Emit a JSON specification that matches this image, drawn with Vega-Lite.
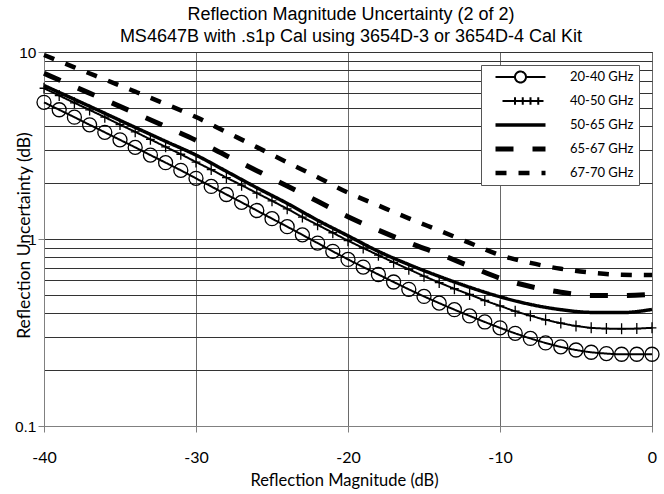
{
  "$schema": "https://vega.github.io/schema/vega-lite/v6.json",
  "autosize": {"type": "none"},
  "padding": {"left": 44, "top": 52, "right": 12, "bottom": 68},
  "width": 608,
  "height": 374,
  "background": "white",
  "title": {
    "text": ["Reflection Magnitude Uncertainty (2 of 2)", "MS4647B with .s1p Cal using 3654D-3 or 3654D-4 Cal Kit"],
    "font": "Liberation Sans",
    "fontSize": 18,
    "fontWeight": "normal",
    "color": "black",
    "anchor": "middle",
    "lineHeight": 22,
    "offset": -1,
    "dx": 3
  },
  "config": {
    "view": {"stroke": "black", "strokeWidth": 1},
    "axis": {"labelColor": "black", "titleColor": "black", "titleFontWeight": "normal"},
    "legend": {
      "orient": "none",
      "legendX": 437,
      "legendY": 13,
      "padding": 5,
      "symbolOffset": 7,
      "symbolSize": 2500,
      "clipHeight": 14,
      "rowPadding": 10,
      "labelOffset": 22,
      "labelFont": "Lato",
      "labelFontSize": 13,
      "labelColor": "black",
      "strokeColor": "#555555",
      "fillColor": "white",
      "symbolOpacity": 1,
      "symbolStrokeColor": "black",
      "symbolFillColor": "transparent"
    }
  },
  "data": {
    "values": [
      {"s": "20-40 GHz", "x": -40, "y": 5.38},
      {"s": "20-40 GHz", "x": -39, "y": 4.91},
      {"s": "20-40 GHz", "x": -38, "y": 4.48},
      {"s": "20-40 GHz", "x": -37, "y": 4.08},
      {"s": "20-40 GHz", "x": -36, "y": 3.72},
      {"s": "20-40 GHz", "x": -35, "y": 3.39},
      {"s": "20-40 GHz", "x": -34, "y": 3.09},
      {"s": "20-40 GHz", "x": -33, "y": 2.81},
      {"s": "20-40 GHz", "x": -32, "y": 2.56},
      {"s": "20-40 GHz", "x": -31, "y": 2.33},
      {"s": "20-40 GHz", "x": -30, "y": 2.11},
      {"s": "20-40 GHz", "x": -29, "y": 1.91},
      {"s": "20-40 GHz", "x": -28, "y": 1.73},
      {"s": "20-40 GHz", "x": -27, "y": 1.57},
      {"s": "20-40 GHz", "x": -26, "y": 1.42},
      {"s": "20-40 GHz", "x": -25, "y": 1.285},
      {"s": "20-40 GHz", "x": -24, "y": 1.164},
      {"s": "20-40 GHz", "x": -23, "y": 1.052},
      {"s": "20-40 GHz", "x": -22, "y": 0.951},
      {"s": "20-40 GHz", "x": -21, "y": 0.859},
      {"s": "20-40 GHz", "x": -20, "y": 0.778},
      {"s": "20-40 GHz", "x": -19, "y": 0.708},
      {"s": "20-40 GHz", "x": -18, "y": 0.646},
      {"s": "20-40 GHz", "x": -17, "y": 0.589},
      {"s": "20-40 GHz", "x": -16, "y": 0.538},
      {"s": "20-40 GHz", "x": -15, "y": 0.493},
      {"s": "20-40 GHz", "x": -14, "y": 0.454},
      {"s": "20-40 GHz", "x": -13, "y": 0.419},
      {"s": "20-40 GHz", "x": -12, "y": 0.388},
      {"s": "20-40 GHz", "x": -11, "y": 0.36},
      {"s": "20-40 GHz", "x": -10, "y": 0.335},
      {"s": "20-40 GHz", "x": -9, "y": 0.313},
      {"s": "20-40 GHz", "x": -8, "y": 0.294},
      {"s": "20-40 GHz", "x": -7, "y": 0.278},
      {"s": "20-40 GHz", "x": -6, "y": 0.265},
      {"s": "20-40 GHz", "x": -5, "y": 0.255},
      {"s": "20-40 GHz", "x": -4, "y": 0.248},
      {"s": "20-40 GHz", "x": -3, "y": 0.244},
      {"s": "20-40 GHz", "x": -2, "y": 0.242},
      {"s": "20-40 GHz", "x": -1, "y": 0.242},
      {"s": "20-40 GHz", "x": 0, "y": 0.242},
      {"s": "40-50 GHz", "x": -40, "y": 6.4},
      {"s": "40-50 GHz", "x": -39, "y": 5.85},
      {"s": "40-50 GHz", "x": -38, "y": 5.35},
      {"s": "40-50 GHz", "x": -37, "y": 4.9},
      {"s": "40-50 GHz", "x": -36, "y": 4.48},
      {"s": "40-50 GHz", "x": -35, "y": 4.09},
      {"s": "40-50 GHz", "x": -34, "y": 3.74},
      {"s": "40-50 GHz", "x": -33, "y": 3.41},
      {"s": "40-50 GHz", "x": -32, "y": 3.11},
      {"s": "40-50 GHz", "x": -31, "y": 2.84},
      {"s": "40-50 GHz", "x": -30, "y": 2.58},
      {"s": "40-50 GHz", "x": -29, "y": 2.35},
      {"s": "40-50 GHz", "x": -28, "y": 2.13},
      {"s": "40-50 GHz", "x": -27, "y": 1.94},
      {"s": "40-50 GHz", "x": -26, "y": 1.76},
      {"s": "40-50 GHz", "x": -25, "y": 1.6},
      {"s": "40-50 GHz", "x": -24, "y": 1.45},
      {"s": "40-50 GHz", "x": -23, "y": 1.31},
      {"s": "40-50 GHz", "x": -22, "y": 1.19},
      {"s": "40-50 GHz", "x": -21, "y": 1.08},
      {"s": "40-50 GHz", "x": -20, "y": 0.98},
      {"s": "40-50 GHz", "x": -19, "y": 0.895},
      {"s": "40-50 GHz", "x": -18, "y": 0.819},
      {"s": "40-50 GHz", "x": -17, "y": 0.75},
      {"s": "40-50 GHz", "x": -16, "y": 0.689},
      {"s": "40-50 GHz", "x": -15, "y": 0.633},
      {"s": "40-50 GHz", "x": -14, "y": 0.585},
      {"s": "40-50 GHz", "x": -13, "y": 0.542},
      {"s": "40-50 GHz", "x": -12, "y": 0.505},
      {"s": "40-50 GHz", "x": -11, "y": 0.469},
      {"s": "40-50 GHz", "x": -10, "y": 0.439},
      {"s": "40-50 GHz", "x": -9, "y": 0.411},
      {"s": "40-50 GHz", "x": -8, "y": 0.389},
      {"s": "40-50 GHz", "x": -7, "y": 0.37},
      {"s": "40-50 GHz", "x": -6, "y": 0.355},
      {"s": "40-50 GHz", "x": -5, "y": 0.343},
      {"s": "40-50 GHz", "x": -4, "y": 0.335},
      {"s": "40-50 GHz", "x": -3, "y": 0.332},
      {"s": "40-50 GHz", "x": -2, "y": 0.331},
      {"s": "40-50 GHz", "x": -1, "y": 0.332},
      {"s": "40-50 GHz", "x": 0, "y": 0.335},
      {"s": "50-65 GHz", "x": -40, "y": 6.62},
      {"s": "50-65 GHz", "x": -38, "y": 5.58},
      {"s": "50-65 GHz", "x": -36, "y": 4.7},
      {"s": "50-65 GHz", "x": -34, "y": 3.95},
      {"s": "50-65 GHz", "x": -32, "y": 3.33},
      {"s": "50-65 GHz", "x": -30, "y": 2.81},
      {"s": "50-65 GHz", "x": -28, "y": 2.3},
      {"s": "50-65 GHz", "x": -26, "y": 1.88},
      {"s": "50-65 GHz", "x": -24, "y": 1.55},
      {"s": "50-65 GHz", "x": -22, "y": 1.26},
      {"s": "50-65 GHz", "x": -20, "y": 1.04},
      {"s": "50-65 GHz", "x": -18, "y": 0.859},
      {"s": "50-65 GHz", "x": -16, "y": 0.73},
      {"s": "50-65 GHz", "x": -14, "y": 0.631},
      {"s": "50-65 GHz", "x": -12, "y": 0.552},
      {"s": "50-65 GHz", "x": -10, "y": 0.491},
      {"s": "50-65 GHz", "x": -8, "y": 0.447},
      {"s": "50-65 GHz", "x": -6, "y": 0.419},
      {"s": "50-65 GHz", "x": -4, "y": 0.405},
      {"s": "50-65 GHz", "x": -2, "y": 0.404},
      {"s": "50-65 GHz", "x": 0, "y": 0.42},
      {"s": "65-67 GHz", "x": -40, "y": 7.69},
      {"s": "65-67 GHz", "x": -38, "y": 6.53},
      {"s": "65-67 GHz", "x": -36, "y": 5.55},
      {"s": "65-67 GHz", "x": -34, "y": 4.71},
      {"s": "65-67 GHz", "x": -32, "y": 3.99},
      {"s": "65-67 GHz", "x": -30, "y": 3.37},
      {"s": "65-67 GHz", "x": -28, "y": 2.79},
      {"s": "65-67 GHz", "x": -26, "y": 2.32},
      {"s": "65-67 GHz", "x": -24, "y": 1.92},
      {"s": "65-67 GHz", "x": -22, "y": 1.59},
      {"s": "65-67 GHz", "x": -20, "y": 1.315},
      {"s": "65-67 GHz", "x": -18, "y": 1.114},
      {"s": "65-67 GHz", "x": -16, "y": 0.955},
      {"s": "65-67 GHz", "x": -14, "y": 0.832},
      {"s": "65-67 GHz", "x": -12, "y": 0.716},
      {"s": "65-67 GHz", "x": -10, "y": 0.617},
      {"s": "65-67 GHz", "x": -8, "y": 0.557},
      {"s": "65-67 GHz", "x": -6, "y": 0.519},
      {"s": "65-67 GHz", "x": -4, "y": 0.499},
      {"s": "65-67 GHz", "x": -2, "y": 0.498},
      {"s": "65-67 GHz", "x": 0, "y": 0.506},
      {"s": "67-70 GHz", "x": -40, "y": 9.64},
      {"s": "67-70 GHz", "x": -38, "y": 8.28},
      {"s": "67-70 GHz", "x": -36, "y": 7.13},
      {"s": "67-70 GHz", "x": -34, "y": 6.14},
      {"s": "67-70 GHz", "x": -32, "y": 5.27},
      {"s": "67-70 GHz", "x": -30, "y": 4.49},
      {"s": "67-70 GHz", "x": -28, "y": 3.73},
      {"s": "67-70 GHz", "x": -26, "y": 3.1},
      {"s": "67-70 GHz", "x": -24, "y": 2.57},
      {"s": "67-70 GHz", "x": -22, "y": 2.14},
      {"s": "67-70 GHz", "x": -20, "y": 1.77},
      {"s": "67-70 GHz", "x": -18, "y": 1.51},
      {"s": "67-70 GHz", "x": -16, "y": 1.29},
      {"s": "67-70 GHz", "x": -14, "y": 1.11},
      {"s": "67-70 GHz", "x": -12, "y": 0.953},
      {"s": "67-70 GHz", "x": -10, "y": 0.82},
      {"s": "67-70 GHz", "x": -8, "y": 0.745},
      {"s": "67-70 GHz", "x": -6, "y": 0.693},
      {"s": "67-70 GHz", "x": -4, "y": 0.661},
      {"s": "67-70 GHz", "x": -2, "y": 0.644},
      {"s": "67-70 GHz", "x": 0, "y": 0.641}
    ]
  },
  "encoding": {
    "x": {
      "field": "x",
      "type": "quantitative",
      "scale": {"domain": [-40, 0], "nice": false, "zero": false},
      "axis": {
        "values": [-40, -30, -20, -10, 0],
        "grid": true,
        "gridColor": "#6a6a6a",
        "gridWidth": 1,
        "domainColor": "#808080",
        "tickColor": "#808080",
        "tickSize": 6,
        "labelExpr": "toString(datum.value)",
        "labelFont": "Lato",
        "labelFontSize": 16,
        "labelPadding": 17,
        "labelFlush": false,
        "labelOverlap": false,
        "title": "Reflection Magnitude (dB)",
        "titleFont": "Lato",
        "titleFontSize": 16.5,
        "titleBaseline": "alphabetic",
        "titleY": 59,
        "titleX": 300
      }
    },
    "y": {
      "field": "y",
      "type": "quantitative",
      "scale": {"type": "log", "domain": [0.1, 10], "nice": false},
      "axis": {
        "values": [0.1, 0.2, 0.3, 0.4, 0.5, 0.6, 0.7, 0.8, 0.9, 1, 2, 3, 4, 5, 6, 7, 8, 9, 10],
        "grid": true,
        "gridColor": "#333333",
        "gridWidth": 1,
        "domainColor": "#808080",
        "tickColor": "#808080",
        "tickSize": 6,
        "tickOpacity": {"condition": {"test": "datum.value == 0.1 || datum.value == 1 || datum.value == 10", "value": 1}, "value": 0},
        "labelExpr": "datum.value == 0.1 ? '0.1' : datum.value == 1 ? '1' : datum.value == 10 ? '10' : ''",
        "labelFont": "Liberation Sans",
        "labelFontSize": 15.5,
        "labelPadding": 2,
        "labelOverlap": false,
        "labelBound": false,
        "title": "Reflection Uncertainty (dB)",
        "titleFont": "Lato",
        "titleFontSize": 17.5,
        "titleBaseline": "middle",
        "titleX": -20,
        "titleY": 183
      }
    }
  },
  "layer": [
    {
      "mark": {"type": "line", "color": "black", "interpolate": "monotone", "strokeCap": "butt"},
      "encoding": {
        "strokeDash": {
          "field": "s",
          "type": "nominal",
          "scale": {
            "domain": ["20-40 GHz", "40-50 GHz", "50-65 GHz", "65-67 GHz", "67-70 GHz"],
            "range": [[1, 0], [1, 0], [1, 0], [18, 19], [11, 12]]
          },
          "legend": {"title": null, "labelExpr": "datum.label + '  '"}
        },
        "strokeWidth": {
          "field": "s",
          "type": "nominal",
          "scale": {
            "type": "ordinal",
            "domain": ["20-40 GHz", "40-50 GHz", "50-65 GHz", "65-67 GHz", "67-70 GHz"],
            "range": [2, 2, 3.5, 5, 4.5]
          },
          "legend": {"title": null, "labelExpr": "datum.label + '  '"}
        }
      }
    },
    {
      "transform": [{"filter": "datum.x === -40"}],
      "mark": {"type": "point", "filled": false, "stroke": "black", "opacity": 0},
      "encoding": {
        "shape": {
          "field": "s",
          "type": "nominal",
          "scale": {
            "domain": ["20-40 GHz", "40-50 GHz", "50-65 GHz", "65-67 GHz", "67-70 GHz"],
            "range": [
              "M-1,0H-0.22M0.22,0H1M0.22,0C0.22,0.121,0.121,0.22,0,0.22C-0.121,0.22,-0.22,0.121,-0.22,0C-0.22,-0.121,-0.121,-0.22,0,-0.22C0.121,-0.22,0.22,-0.121,0.22,0Z",
              "M-0.72,0H0.92M-0.22,-0.15V0.15M0.09,-0.15V0.15M0.4,-0.15V0.15M0.71,-0.15V0.15",
              "stroke",
              "stroke",
              "stroke"
            ]
          },
          "legend": {"title": null, "labelExpr": "datum.label + '  '"}
        }
      }
    },
    {
      "transform": [{"filter": "datum.s === '20-40 GHz'"}],
      "mark": {"type": "point", "shape": "circle", "size": 196, "filled": false, "stroke": "black", "strokeWidth": 1.3, "opacity": 1}
    },
    {
      "transform": [{"filter": "datum.s === '40-50 GHz'"}],
      "mark": {"type": "point", "shape": "M-0.8,0H0.8M0,-1V1", "size": 121, "filled": false, "stroke": "black", "strokeWidth": 1.3, "opacity": 1}
    }
  ]
}
